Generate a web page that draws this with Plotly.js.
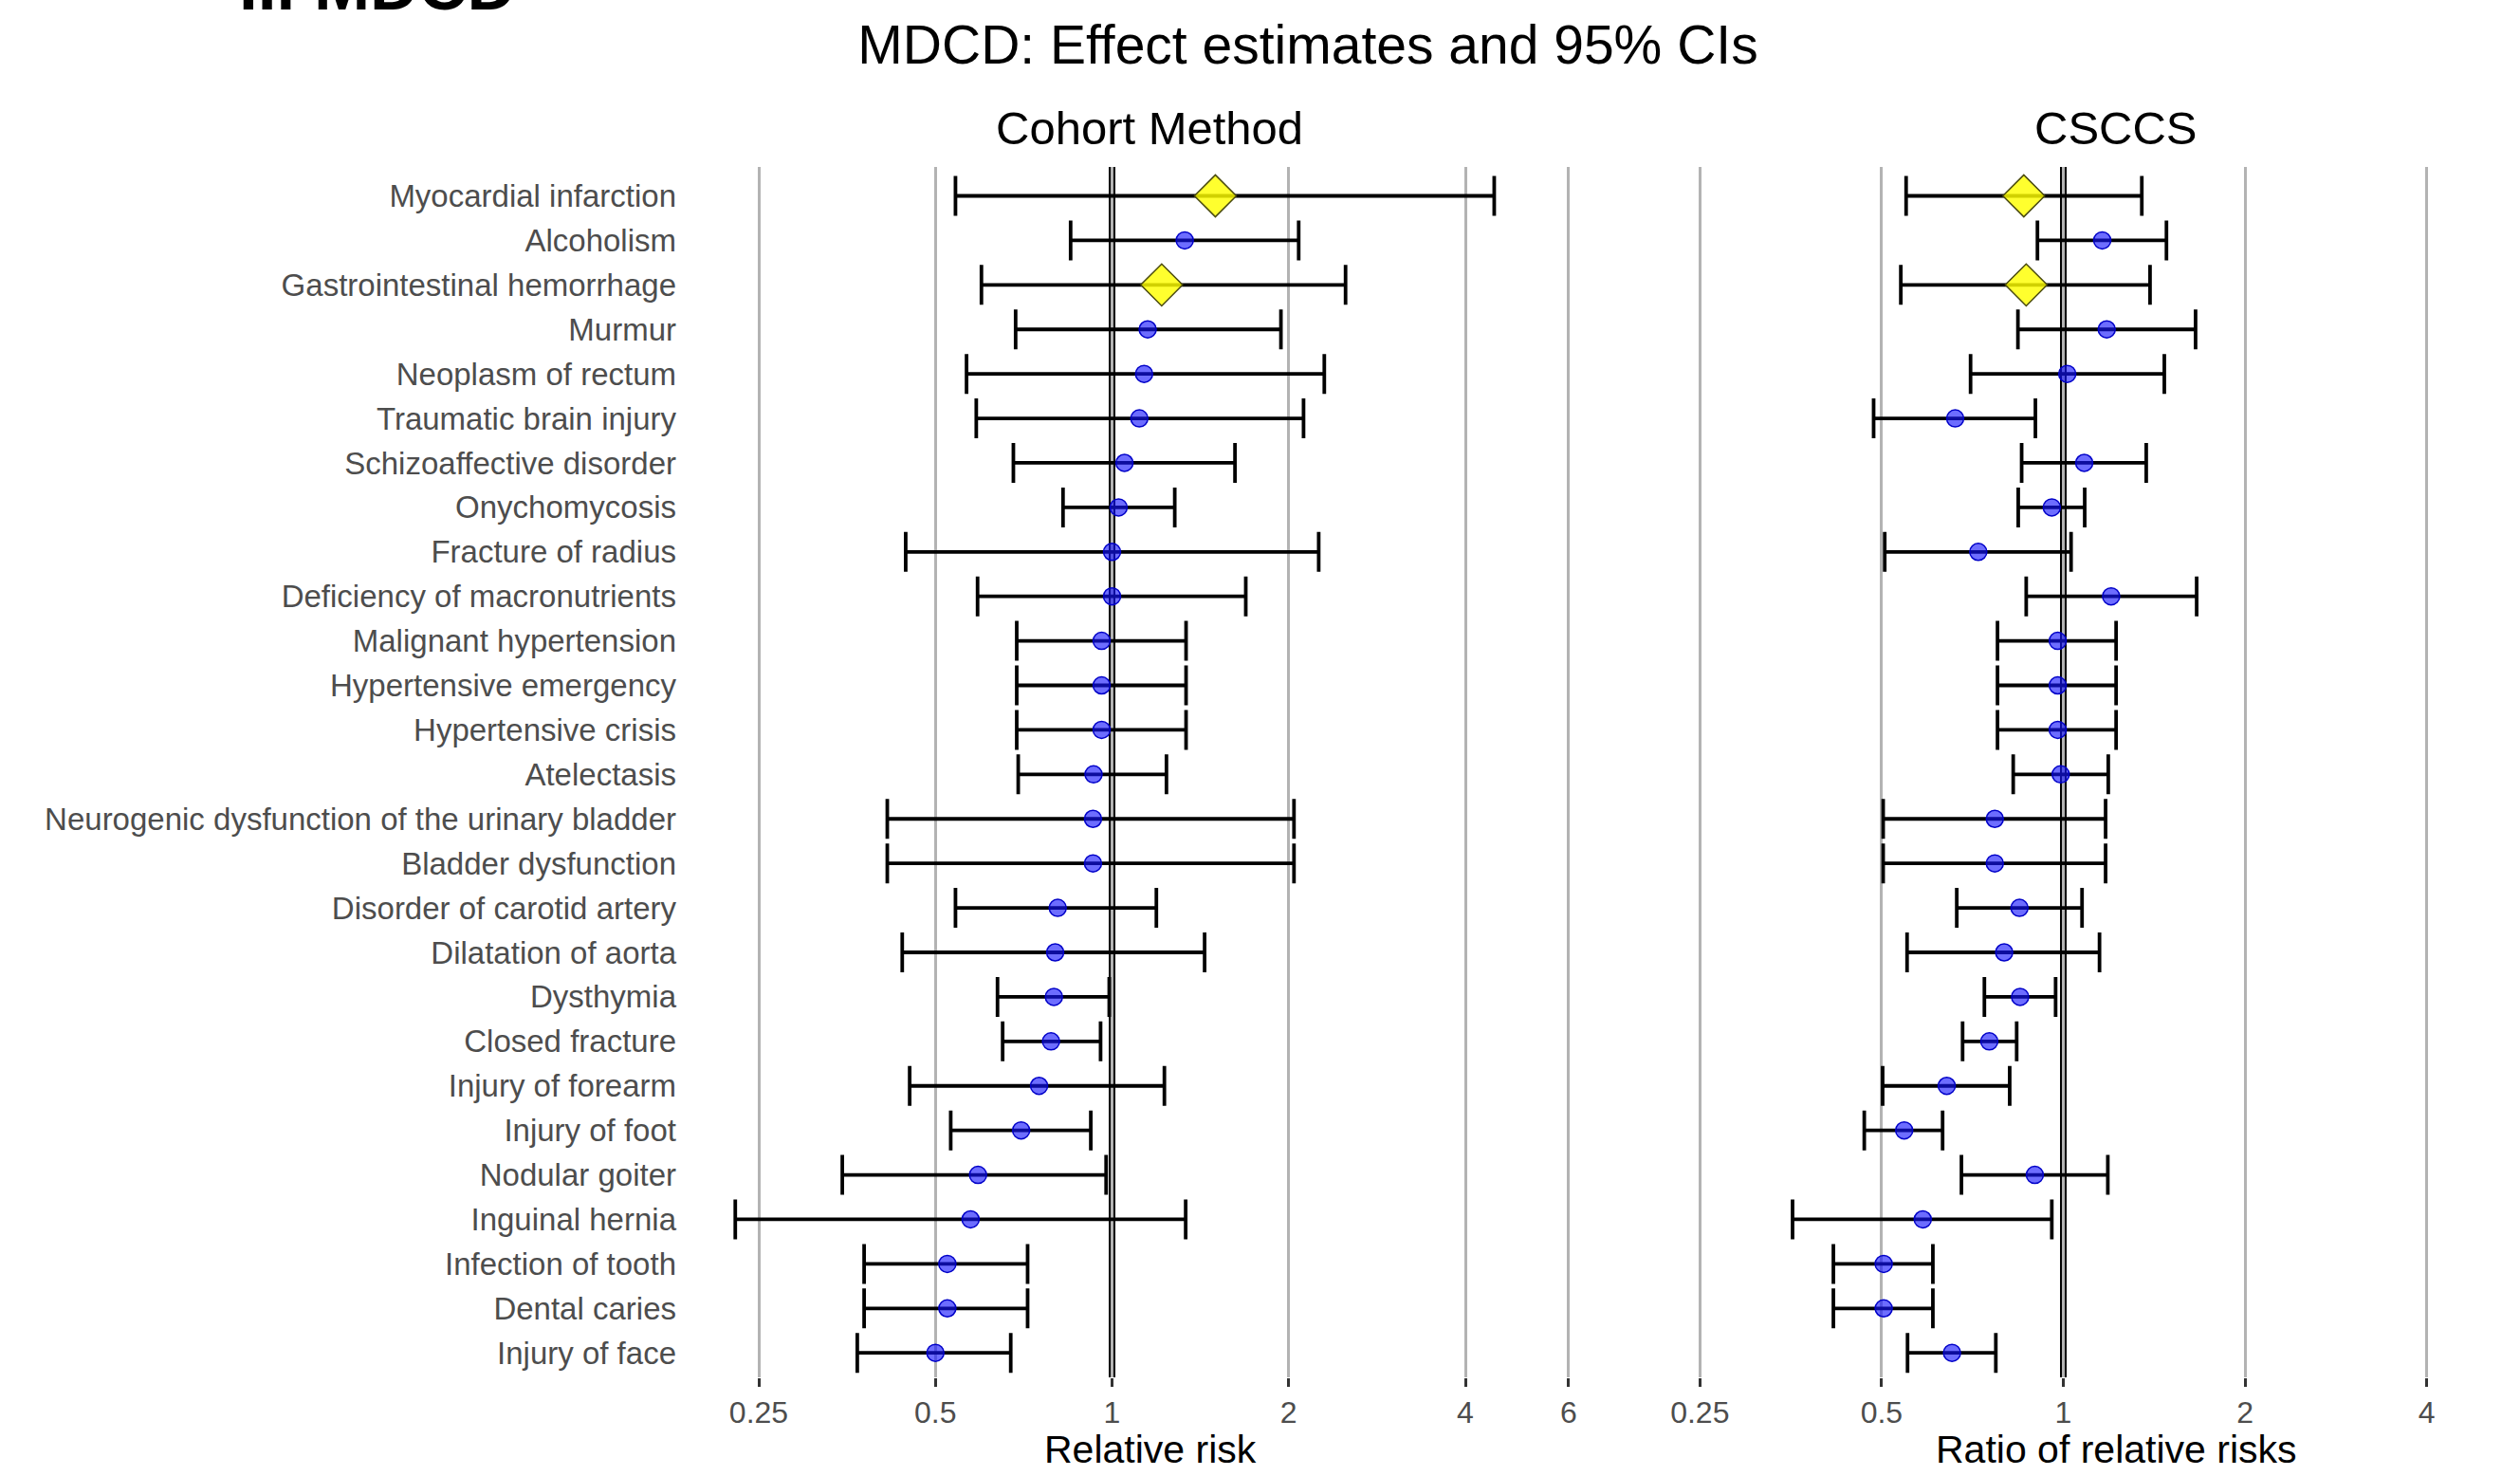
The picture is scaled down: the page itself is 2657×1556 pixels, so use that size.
<!DOCTYPE html>
<html>
<head>
<meta charset="utf-8">
<script src="https://cdn.plot.ly/plotly-3.0.1.min.js"></script>
<style>html,body{margin:0;padding:0;background:#fff;}#chart{width:2657px;height:1556px;}</style>
</head>
<body>
<div id="chart"></div>
<script>
// ---------------- data ----------------
const outcomes = ["Myocardial infarction","Alcoholism","Gastrointestinal hemorrhage","Murmur","Neoplasm of rectum","Traumatic brain injury","Schizoaffective disorder","Onychomycosis","Fracture of radius","Deficiency of macronutrients","Malignant hypertension","Hypertensive emergency","Hypertensive crisis","Atelectasis","Neurogenic dysfunction of the urinary bladder","Bladder dysfunction","Disorder of carotid artery","Dilatation of aorta","Dysthymia","Closed fracture","Injury of forearm","Injury of foot","Nodular goiter","Inguinal hernia","Infection of tooth","Dental caries","Injury of face"];
const markerKind = ["diamond","circle","diamond","circle","circle","circle","circle","circle","circle","circle","circle","circle","circle","circle","circle","circle","circle","circle","circle","circle","circle","circle","circle","circle","circle","circle","circle"];

// Cohort Method: relative risk and 95% CI
const cmEst = [1.50,1.33,1.215,1.15,1.134,1.113,1.05,1.026,1.0,1.0,0.96,0.96,0.96,0.93,0.928,0.928,0.808,0.80,0.796,0.787,0.751,0.70,0.591,0.574,0.524,0.524,0.50];
const cmLo  = [0.541,0.85,0.599,0.685,0.565,0.587,0.679,0.825,0.445,0.59,0.688,0.688,0.688,0.692,0.414,0.414,0.541,0.439,0.638,0.651,0.452,0.531,0.347,0.228,0.378,0.378,0.368];
const cmHi  = [4.48,2.08,2.50,1.94,2.30,2.12,1.62,1.279,2.25,1.69,1.337,1.337,1.337,1.238,2.042,2.042,1.19,1.438,0.989,0.956,1.228,0.92,0.977,1.335,0.718,0.718,0.672];

// CSCCS: ratio of relative risks and 95% CI
const csEst = [0.86,1.16,0.868,1.18,1.015,0.662,1.083,0.957,0.723,1.20,0.979,0.979,0.979,0.99,0.77,0.77,0.846,0.798,0.848,0.754,0.641,0.545,0.897,0.585,0.504,0.504,0.654];
const csLo  = [0.549,0.906,0.538,0.841,0.702,0.485,0.853,0.842,0.506,0.868,0.778,0.778,0.778,0.826,0.503,0.503,0.666,0.551,0.74,0.681,0.502,0.468,0.678,0.356,0.416,0.416,0.552];
const csHi  = [1.349,1.482,1.392,1.656,1.47,0.899,1.372,1.085,1.03,1.663,1.223,1.223,1.223,1.187,1.175,1.175,1.074,1.148,0.971,0.837,0.815,0.631,1.185,0.957,0.608,0.608,0.773];

const cmTicks = [0.25,0.5,1,2,4,6];
const cmTickText = ["0.25","0.5","1","2","4","6"];
const csTicks = [0.25,0.5,1,2,4];
const csTickText = ["0.25","0.5","1","2","4"];

const mainTitle = "MDCD: Effect estimates and 95% CIs";
const panelTitles = ["Cohort Method","CSCCS"];
const axisTitles = ["Relative risk","Ratio of relative risks"];
const cornerLabel = "II. MDCD";

// ---------------- layout geometry ----------------
const W = 2657, H = 1556;
const FONT = "Liberation Sans, Arial, sans-serif";
const TXT = "#4d4d4d";
function logRange(px0, px1, pxAt1, pxPerDoubling) {
  const f = p => Math.log10(Math.pow(2, (p - pxAt1) / pxPerDoubling));
  return [f(px0), f(px1)];
}
const leftPx = [722, 1657], rightPx = [1786, 2657];
const xRange1 = logRange(leftPx[0], leftPx[1], 1172.5, 186.25);
const xRange2 = logRange(rightPx[0], rightPx[1], 2175.5, 191.6);
const yDom = [(H - 1452) / H, (H - 176) / H];

function pick(arr, kind) { return arr.filter((_, i) => markerKind[i] === kind); }
function buildTraces(est, lo, hi, xa, ya) {
  const out = [];
  ["circle","diamond"].forEach(kind => {
    const e = pick(est, kind), l = pick(lo, kind), h = pick(hi, kind);
    const marker = kind === "circle"
      ? {symbol:"circle", size:18, color:"rgba(20,20,255,0.62)", line:{color:"#0000c8", width:1.5}}
      : {symbol:"diamond", size:34, color:"rgba(255,255,0,0.82)", line:{color:"#4a4a10", width:1.5}};
    out.push({
      type:"scatter", mode:"markers", xaxis:xa, yaxis:ya,
      x:e, y:pick(outcomes, kind),
      error_x:{type:"data", symmetric:false,
        array:e.map((v,i)=>h[i]-v), arrayminus:e.map((v,i)=>v-l[i]),
        color:"#000", thickness:3.8, width:21},
      marker:marker, showlegend:false, hoverinfo:"x+y"
    });
  });
  return out;
}
const data = [].concat(
  buildTraces(cmEst, cmLo, cmHi, "x", "y"),
  buildTraces(csEst, csLo, csHi, "x2", "y2")
);

const xCommon = {
  type:"log", showgrid:true, gridcolor:"#b3b3b3", gridwidth:3, zeroline:false, showline:false,
  ticks:"outside", ticklen:9, tickwidth:3, tickcolor:"#333333",
  tickfont:{family:FONT, size:32, color:TXT}, anchor:"free"
};
const yCategory = {
  type:"category", categoryorder:"array", categoryarray:outcomes,
  range:[26.55, -0.65], domain:yDom, showgrid:false, zeroline:false, showline:false
};

function vline(xref) {
  return [
    {type:"line", xref:xref, yref:"paper", x0:1, x1:1, y0:yDom[0], y1:yDom[1], layer:"below", line:{color:"#000", width:7}},
    {type:"line", xref:xref, yref:"paper", x0:1, x1:1, y0:yDom[0], y1:yDom[1], layer:"below", line:{color:"#8c8c8c", width:2.5}}
  ];
}

const layout = {
  width:W, height:H, margin:{l:0, r:0, t:0, b:0},
  paper_bgcolor:"#fff", plot_bgcolor:"#fff",
  font:{family:FONT, color:"#000"},
  title:{text:mainTitle, font:{family:FONT, size:57, color:"#000"},
    x:1379/W, xanchor:"center", xref:"paper", y:1-47/H, yanchor:"middle", yref:"container"},
  xaxis:Object.assign({}, xCommon, {domain:[leftPx[0]/W, leftPx[1]/W], range:xRange1,
    tickvals:cmTicks, ticktext:cmTickText, position:yDom[0]}),
  xaxis2:Object.assign({}, xCommon, {domain:[rightPx[0]/W, 1], range:xRange2,
    tickvals:csTicks, ticktext:csTickText, position:yDom[0]}),
  yaxis:Object.assign({}, yCategory, {anchor:"x", ticks:"", ticklabelstandoff:8,
    tickfont:{family:FONT, size:33, color:TXT}}),
  yaxis2:Object.assign({}, yCategory, {anchor:"x2", showticklabels:false, ticks:""}),
  shapes:[].concat(vline("x"), vline("x2")),
  annotations:[
    {text:panelTitles[0], xref:"paper", yref:"paper", x:1212/W, y:1-135/H, xanchor:"center", yanchor:"middle", showarrow:false, font:{family:FONT, size:49, color:"#000"}},
    {text:panelTitles[1], xref:"paper", yref:"paper", x:2231/W, y:1-135/H, xanchor:"center", yanchor:"middle", showarrow:false, font:{family:FONT, size:49, color:"#000"}},
    {text:axisTitles[0], xref:"paper", yref:"paper", x:1213/W, y:1-1528/H, xanchor:"center", yanchor:"middle", showarrow:false, font:{family:FONT, size:41, color:"#000"}},
    {text:axisTitles[1], xref:"paper", yref:"paper", x:2231/W, y:1-1528/H, xanchor:"center", yanchor:"middle", showarrow:false, font:{family:FONT, size:41, color:"#000"}},
    {text:"<b>"+cornerLabel+"</b>", xref:"paper", yref:"paper", x:250/W, y:1-27/H, xanchor:"left", yanchor:"bottom", showarrow:false, font:{family:FONT, size:71, color:"#000"}}
  ]
};

Plotly.newPlot("chart", data, layout, {displayModeBar:false, staticPlot:true});
</script>
</body>
</html>
